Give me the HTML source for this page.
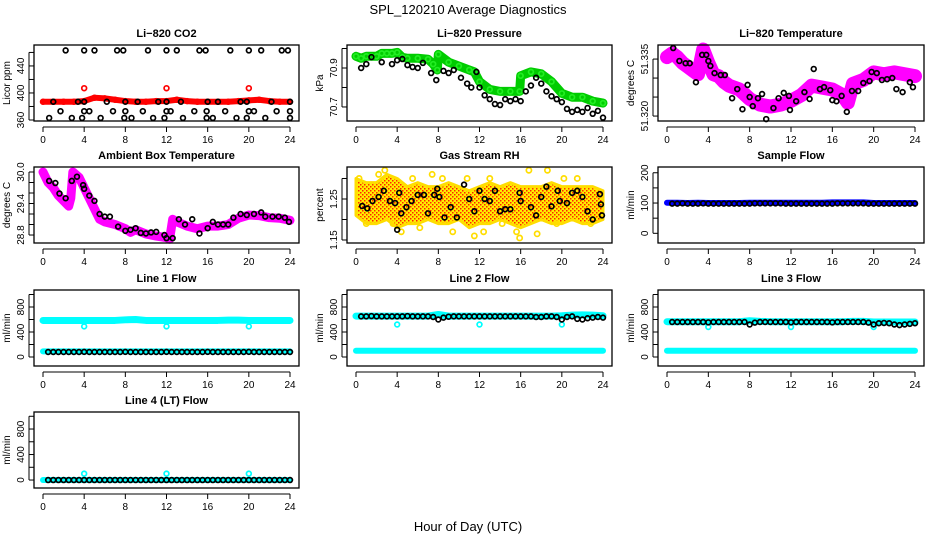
<!DOCTYPE html>
<html><head><meta charset="utf-8"><style>
body{margin:0;background:#fff;}
svg text{font-family:"Liberation Sans",Arial,sans-serif;}
</style></head><body>
<svg id="chart" width="936" height="540" xmlns="http://www.w3.org/2000/svg">
<defs>
<pattern id="rhpat" width="4" height="4" patternUnits="userSpaceOnUse"><rect width="4" height="4" fill="#ffee00"/><rect x="0" y="0" width="1.5" height="1.5" fill="#ff2200"/><rect x="2" y="2" width="1.5" height="1.5" fill="#ff2200"/></pattern>
</defs>
<rect width="936" height="540" fill="#fff"/>
<text x="468" y="14" text-anchor="middle" font-size="13">SPL_120210  Average Diagnostics</text>
<text x="468" y="531" text-anchor="middle" font-size="13">Hour of Day (UTC)</text>
</svg>
<script>
// ---- data ----
const hourTicks = [0,4,8,12,16,20,24];
const hrs = [0,1,2,3,4,5,6,7,8,9,10,11,12,13,14,15,16,17,18,19,20,21,22,23,24];
const halfHrs = [0.5,1,1.5,2,2.5,3,3.5,4,4.5,5,5.5,6,6.5,7,7.5,8,8.5,9,9.5,10,10.5,11,11.5,12,12.5,13,13.5,14,14.5,15,15.5,16,16.5,17,17.5,18,18.5,19,19.5,20,20.5,21,21.5,22,22.5,23,23.5,24];

// CO2
const co2Red = [387,387,387,387,388,393,392,390,388,387,387,388,388,390,388,387,387,387,387,388,389,390,388,387,387];
const co2OutHrs = [4,12,20];
const co2OutVals = [407,407,407];
const co2BlkHrs = [2.2,4,5,7.2,7.8,10.2,12,13,15.2,15.8,18.2,20,21.2,23.2,23.8, 1,3.4,4,6.2,8,9.2,11.2,12,13.4,16,17,19.2,19.8,22.2,24, 1.7,4,4.5,6.8,8,9.7,12,12.4,14.7,15.9,17.7,20,20.5,22.7,24, 0.6,2.8,3.8,5.6,7.9,8.6,10.7,11.8,13.6,15.9,16.5,18.8,19.8,21.6,24];
const co2BlkVals = [463,463,463,463,463,463,463,463,463,463,463,463,463,463,463, 387,387,387,387,387,387,387,387,387,387,387,387,387,387,387, 373,373,373,373,373,373,373,373,373,373,373,373,373,373,373, 363,363,363,363,363,363,363,363,363,363,363,363,363,363,363];

// Pressure
const presGreenHrs = [0,0.5,1,1.5,2,2.5,3,3.5,4,4.5,5,6,7,7.5,7.9,8,9,10,11,11.5,12,13,14,15,15.9,16,17,18,19,20,21,22,23,24];
const presGreen = [70.96,70.95,70.96,70.96,70.96,70.975,70.975,70.975,70.98,70.955,70.95,70.95,70.945,70.92,70.89,70.97,70.93,70.91,70.89,70.88,70.83,70.79,70.78,70.78,70.78,70.86,70.88,70.87,70.83,70.77,70.75,70.75,70.73,70.72];
const presBlkHrs = [0.5,1,1.5,2.5,3.5,4,4.5,5,5.5,6,6.5,7.3,7.8,8.5,9,9.5,10.2,10.8,11.2,11.7,12,12.5,13,13.5,14,14.5,15,15.5,16,16.5,17,17.5,18,18.5,19,19.5,20,20.5,21,21.5,22,22.5,23,23.5,24];
const presBlk = [70.9,70.92,70.956,70.93,70.92,70.94,70.946,70.915,70.905,70.9,70.926,70.874,70.838,70.885,70.874,70.89,70.85,70.82,70.8,70.88,70.8,70.76,70.74,70.715,70.71,70.74,70.73,70.74,70.73,70.78,70.81,70.85,70.82,70.78,70.755,70.74,70.725,70.69,70.675,70.685,70.675,70.695,70.665,70.68,70.645];

// Li-820 temperature
const tempMagHrs = [0,0.5,1,1.5,2,2.5,3,3.5,4,4.5,5,5.5,6,7,8,9,10,11,12,13,14,15,16,17,17.5,18,19,20,21,22,23,24];
const tempMag = [51.3355,51.3365,51.3355,51.334,51.333,51.332,51.331,51.3375,51.334,51.331,51.3305,51.329,51.328,51.327,51.3245,51.323,51.3225,51.323,51.324,51.3255,51.328,51.3275,51.327,51.3255,51.3235,51.3285,51.3295,51.3315,51.331,51.3315,51.331,51.3305];
const tempBlkHrs = [0.6,1.2,1.8,2.2,2.8,3.4,3.8,4,4.2,4.6,5.2,5.6,6.3,6.8,7.3,7.8,8,8.3,8.8,9.2,9.6,10.3,10.8,11.3,11.8,11.9,12.5,13.3,13.8,14.2,14.8,15.2,15.8,16,16.4,16.9,17.4,17.9,18.5,19,19.6,19.8,20.3,20.8,21.3,21.8,22.2,22.8,23.5,23.8];
const tempBlk = [51.3379,51.3345,51.3339,51.3339,51.3289,51.3361,51.3361,51.3345,51.3332,51.3313,51.3308,51.3308,51.3247,51.3271,51.3218,51.3282,51.325,51.3226,51.3247,51.3258,51.3192,51.3221,51.3247,51.3261,51.3253,51.3216,51.3239,51.3263,51.3245,51.3324,51.3271,51.3276,51.3268,51.3242,51.3239,51.3253,51.3211,51.3266,51.3266,51.3287,51.3292,51.3316,51.3313,51.3295,51.3297,51.33,51.3271,51.3263,51.3289,51.3276];

// Ambient box temperature
const ambMagHrs = [0,0.5,1,1.5,2,2.5,2.7,2.9,3.5,4,4.5,5,5.5,6,7,8,8.5,9,10,11,12,12.3,12.6,13,14,15,16,17,18,19,20,21,22,23,24];
const ambMag = [30.0,29.8,29.7,29.55,29.45,29.35,29.5,30.0,29.9,29.7,29.5,29.3,29.1,29.05,29.0,28.92,28.85,28.9,28.82,28.78,28.75,28.72,29.1,29.05,28.97,28.92,28.97,28.97,29.0,29.12,29.18,29.17,29.13,29.12,29.08];
const ambBlkHrs = [0.6,1.2,1.6,2.2,2.8,3.3,3.9,4,4.5,5,5.5,6,6.5,7.3,8,8.5,9,9.5,10,10.5,11,11.8,12,12.6,13.2,13.8,14.5,15.2,16,16.5,17,17.5,18,18.5,19.2,19.8,20.5,21.2,21.6,22.3,22.9,23.5,23.9];
const ambBlk = [29.83,29.79,29.59,29.5,29.83,29.91,29.75,29.68,29.55,29.45,29.2,29.15,29.15,28.96,28.88,28.9,28.93,28.84,28.83,28.85,28.86,28.8,28.74,28.74,29.1,29.0,29.1,28.83,28.93,29.05,29.0,29.0,29.0,29.13,29.2,29.18,29.2,29.23,29.15,29.15,29.15,29.13,29.05];

// Gas stream RH
const rhUpper = [1.30,1.29,1.29,1.31,1.30,1.28,1.29,1.28,1.28,1.29,1.28,1.27,1.28,1.29,1.28,1.29,1.28,1.28,1.28,1.29,1.28,1.28,1.28,1.28,1.27];
const rhLower = [1.21,1.19,1.19,1.20,1.18,1.19,1.19,1.20,1.19,1.19,1.20,1.18,1.19,1.19,1.20,1.19,1.18,1.19,1.20,1.19,1.19,1.20,1.19,1.19,1.20];
const rhOutHrs = [0.3,1,2.2,2.8,3.6,4.4,5.5,6.2,7.4,8.4,9.4,10.8,11.5,12.4,13,14.2,15.6,15.9,16.8,17.6,18.6,19.5,20.2,21.5,22.8];
const rhOutVals = [1.3,1.19,1.31,1.32,1.19,1.17,1.3,1.18,1.31,1.3,1.17,1.3,1.16,1.17,1.3,1.19,1.17,1.155,1.32,1.165,1.32,1.19,1.3,1.3,1.19];
const rhBlkHrs = [0.6,1.1,1.6,2.2,2.7,3.3,3.8,4,4.2,4.4,4.9,5.4,6,6.6,7,7.6,7.9,8.1,8.6,9.2,9.8,10.5,11,11.5,12,12.5,13,13.5,14,14.5,15,15.9,16,17,17.5,18,18.5,19,19.6,19.8,20.5,21,21.5,22,22.5,23,23.7,23.8,23.9];
const rhBlk = [1.233,1.227,1.245,1.255,1.27,1.245,1.24,1.175,1.265,1.215,1.23,1.245,1.26,1.26,1.215,1.26,1.275,1.255,1.205,1.23,1.205,1.285,1.25,1.22,1.27,1.25,1.245,1.27,1.22,1.225,1.225,1.265,1.245,1.23,1.21,1.255,1.28,1.232,1.27,1.245,1.24,1.265,1.27,1.255,1.22,1.2,1.262,1.237,1.21];

// Flows
const sampleBlue = [101,101,100,101,100,100,100,100,101,101,101,101,101,101,101,101,102,102,102,102,100,100,100,100,100];
const sampleBlk = [98,98,99,98,98,98,99,98,98,98,98,98,98,98,98,98,99,99,99,99,99,99,98,98,98,98,98,98,98,98,98,98,99,99,99,99,99,99,98,98,98,98,98,98,98,98,98,98];
const l1Upper = [585,585,585,585,585,585,585,585,595,600,585,585,585,585,585,585,585,585,590,590,585,585,585,585,585];
const l1Lower = [90,90,90,90,90,90,90,90,90,90,90,90,90,90,90,90,90,90,90,90,90,90,90,90,90];
const l1Blk = [80,80,80,80,80,80,80,82,80,80,80,80,80,80,80,82,80,80,80,80,80,80,80,82,80,80,80,80,80,80,80,82,80,80,80,80,80,80,80,82,80,80,80,80,80,80,80,80];
const l1OutVals = [490,490,490];
const l2Upper = [655,655,655,655,655,655,655,655,680,655,655,655,655,655,655,655,655,655,655,655,660,670,675,670,660];
const l2Lower = [100,100,100,100,100,100,100,100,100,100,100,100,100,100,100,100,100,100,100,100,100,100,100,100,100];
const l2Blk = [650,650,655,650,650,650,650,650,650,655,650,650,650,650,640,600,630,645,650,650,650,650,650,650,650,650,650,650,650,650,650,650,650,650,640,640,650,650,640,600,640,650,610,600,620,630,640,630];
const l2OutVals = [520,520,520];
const l3Upper = [565,565,565,565,565,565,565,565,580,570,565,565,565,565,565,565,565,565,570,570,560,560,560,560,560];
const l3Lower = [100,100,100,100,100,100,100,100,100,100,100,100,100,100,100,100,100,100,100,100,100,100,100,100,100];
const l3Blk = [560,560,560,560,560,560,560,555,560,560,560,560,560,560,560,520,550,560,560,560,560,560,560,555,560,560,560,560,560,560,560,555,560,560,560,560,560,560,550,520,540,545,540,520,510,520,530,540];
const l3OutVals = [480,480,480];
const l4Cyan = [0,0,0,0,0,0,0,0,0,0,0,0,0,0,0,0,0,0,0,0,0,0,0,0,0];
const l4Blk = [0,0,0,0,0,0,0,0,0,0,0,0,0,0,0,0,0,0,0,0,0,0,0,0,0,0,0,0,0,0,0,0,0,0,0,0,0,0,0,0,0,0,0,0,0,0,0,0];
const l4OutVals = [100,100,100];
const outHrs = [4,12,20];

// ---- drawing ----
const svg = document.getElementById('chart');
const NS = 'http://www.w3.org/2000/svg';
function mk(tag, attrs, parent, name){
  const el = document.createElementNS(NS, tag);
  for (const k in attrs) el.setAttribute(k, attrs[k]);
  
  
  (parent||svg).appendChild(el);
  return el;
}
const cols = [[34,299],[347,612],[658,924]];
const rows = [[45,121],[167,243],[290,366],[412,488]];

function panel(key, c, r, dom, ticks, labels, title, ylab){
  const [L,R] = cols[c], [T,B] = rows[r];
  const g = mk('g', {}, svg, key + '-panel');
  const sx = h => (L+9) + h*(R-L-18)/24;
  const sy = v => B - (v-dom[0])*(B-T)/(dom[1]-dom[0]);
  mk('text', {x:(L+R)/2, y:T-8, 'text-anchor':'middle', 'font-size':11, 'font-weight':'bold'}, g, key+'-title').textContent = title;
  ticks.forEach(v=>{
    mk('line',{x1:L-5,x2:L,y1:sy(v),y2:sy(v),stroke:'#000','stroke-width':1},g,key+'-y-tick');
  });
  mk('line',{x1:L-5,x2:L-5,y1:sy(ticks[0]),y2:sy(ticks[ticks.length-1]),stroke:'#000','stroke-width':1},g,key+'-y-axis');
  labels.forEach(v=>{
    const t = mk('text',{x:L-10,y:sy(v),'text-anchor':'middle','font-size':10,transform:`rotate(-90 ${L-10} ${sy(v)})`},g,key+'-y-tick-label');
    t.textContent = String(v);
  });
  const yl = mk('text',{x:L-24,y:(T+B)/2,'text-anchor':'middle','font-size':10,transform:`rotate(-90 ${L-24} ${(T+B)/2})`},g,key+'-y-axis-title');
  yl.textContent = ylab;
  mk('line',{x1:sx(0),x2:sx(24),y1:B+6,y2:B+6,stroke:'#000','stroke-width':1},g,key+'-x-axis');
  hourTicks.forEach(h=>{
    mk('line',{x1:sx(h),x2:sx(h),y1:B+6,y2:B+11,stroke:'#000','stroke-width':1},g,key+'-x-tick');
    mk('text',{x:sx(h),y:B+22,'text-anchor':'middle','font-size':10},g,key+'-x-tick-label').textContent = String(h);
  });
  const plot = mk('g',{},g,key+'-plot-area');
  mk('rect',{x:L,y:T,width:R-L,height:B-T,fill:'none',stroke:'#000','stroke-width':1.3},g,key+'-frame');
  return {g:plot,sx,sy,key,T,B,L,R};
}
function band(p, xs, ys, color, w, name){
  const pts = xs.map((h,i)=>p.sx(h)+','+p.sy(ys[i])).join(' ');
  mk('polyline',{points:pts,fill:'none',stroke:color,'stroke-width':w,'stroke-linecap':'round','stroke-linejoin':'round'},p.g,name);
}
function dots(p, xs, ys, color, name, r){
  xs.forEach((h,i)=>{
    mk('circle',{cx:p.sx(h),cy:p.sy(ys[i]),r:r||2.4,fill:'none',stroke:color,'stroke-width':1.7},p.g,name);
  });
}

// CO2
let p = panel('co2',0,0,[358.5,471],[360,380,400,420,440,460],[360,400,440],'Li\u2212820 CO2','Licor ppm');
band(p,hrs,co2Red,'#ff0000',6,'co2-band');
dots(p,hrs,co2Red,'#ff0000','co2-point');
dots(p,co2OutHrs,co2OutVals,'#ff0000','co2-outlier');
dots(p,co2BlkHrs,co2BlkVals,'#000','co2-average-point');

// Pressure
p = panel('pressure',1,0,[70.628,71.018],[70.7,70.8,70.9,71.0],[70.7,70.9],'Li\u2212820 Pressure','kPa');
band(p,presGreenHrs,presGreen,'#00cc00',9,'pressure-band');
dots(p,presGreenHrs,presGreen,'#22ee22','pressure-point');
dots(p,presBlkHrs,presBlk,'#000','pressure-average-point');

// Li-820 temp
p = panel('temp',2,0,[51.3187,51.3387],[51.320,51.325,51.330,51.335],[51.320,51.335],'Li\u2212820 Temperature','degrees C');
band(p,tempMagHrs,tempMag,'#ff00ff',14,'temp-band');
dots(p,tempMagHrs,tempMag,'#ff00ff','temp-point',3);
dots(p,tempBlkHrs,tempBlk,'#000','temp-average-point');
p.g.parentNode.querySelectorAll('text').forEach(t=>{ if(t.textContent==='51.32') t.textContent='51.320'; });

// Ambient
p = panel('ambient',0,1,[28.648,30.095],[28.8,29.0,29.2,29.4,29.6,29.8,30.0],[28.8,29.4,30.0],'Ambient Box Temperature','degrees C');
band(p,ambMagHrs,ambMag,'#ff00ff',9,'ambient-band');
dots(p,ambMagHrs,ambMag,'#ff00ff','ambient-point',3);
dots(p,ambBlkHrs,ambBlk,'#000','ambient-average-point');
p.g.parentNode.querySelectorAll('text').forEach(t=>{ if(t.textContent==='30') t.textContent='30.0'; });

// RH
p = panel('rh',1,1,[1.1427,1.328],[1.15,1.20,1.25,1.30],[1.15,1.25],'Gas Stream RH','percent');
{
  const up = hrs.map((h,i)=>p.sx(h)+','+p.sy(rhUpper[i]));
  const lo = hrs.map((h,i)=>p.sx(h)+','+p.sy(rhLower[i])).reverse();
  mk('polygon',{points:up.concat(lo).join(' '),fill:'url(#rhpat)',stroke:'#ffdd00','stroke-width':3,'stroke-linejoin':'round'},p.g,'rh-band');
}
dots(p,rhOutHrs,rhOutVals,'#ffdd00','rh-outlier',2.6);
dots(p,rhBlkHrs,rhBlk,'#000','rh-average-point');

// Sample flow
p = panel('sample',2,1,[-32,219],[0,50,100,150,200],[0,100,200],'Sample Flow','ml/min');
band(p,hrs,sampleBlue,'#0000ff',6,'sample-band');
dots(p,halfHrs,sampleBlk,'#000','sample-average-point');

// Line 1
p = panel('line1',0,2,[-144,1072],[0,200,400,600,800,1000],[0,400,800],'Line 1 Flow','ml/min');
band(p,hrs,l1Upper,'#00ffff',7,'line1-upper-band');
band(p,hrs,l1Lower,'#00ffff',6,'line1-lower-band');
dots(p,outHrs,l1OutVals,'#00ffff','line1-outlier');
dots(p,halfHrs,l1Blk,'#000','line1-average-point');

// Line 2
p = panel('line2',1,2,[-144,1072],[0,200,400,600,800,1000],[0,400,800],'Line 2 Flow','ml/min');
band(p,hrs,l2Upper,'#00ffff',7,'line2-upper-band');
band(p,hrs,l2Lower,'#00ffff',6,'line2-lower-band');
dots(p,outHrs,l2OutVals,'#00ffff','line2-outlier');
dots(p,halfHrs,l2Blk,'#000','line2-average-point');

// Line 3
p = panel('line3',2,2,[-144,1072],[0,200,400,600,800,1000],[0,400,800],'Line 3 Flow','ml/min');
band(p,hrs,l3Upper,'#00ffff',7,'line3-upper-band');
band(p,hrs,l3Lower,'#00ffff',6,'line3-lower-band');
dots(p,outHrs,l3OutVals,'#00ffff','line3-outlier');
dots(p,halfHrs,l3Blk,'#000','line3-average-point');

// Line 4
p = panel('line4',0,3,[-125,1067],[0,200,400,600,800,1000],[0,400,800],'Line 4 (LT) Flow','ml/min');
band(p,hrs,l4Cyan,'#00ffff',6,'line4-band');
dots(p,outHrs,l4OutVals,'#00ffff','line4-outlier');
dots(p,halfHrs,l4Blk,'#000','line4-average-point');
</script>
</body></html>
